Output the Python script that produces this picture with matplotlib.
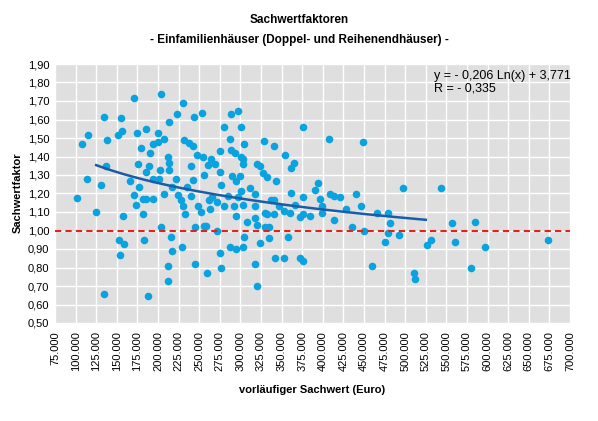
import numpy as np
import matplotlib
matplotlib.use("Agg")
import matplotlib.pyplot as plt
from matplotlib.ticker import FuncFormatter, MultipleLocator

plt.rcParams['font.family'] = ['Liberation Sans', 'DejaVu Sans']

# x in thousand euro, y = Sachwertfaktor
pts = [
(101.2,1.177),(108,1.468),(114.8,1.518),(113.3,1.28),(124.9,1.10),(130.7,1.246),(134.6,1.615),(134.6,0.657),
(136.5,1.35),(138.4,1.488),(151,1.516),(155.4,1.606),(156.8,1.54),(153,0.95),(158.8,0.927),(153.9,0.87),
(157.8,1.08),(166.5,1.27),(170.4,1.19),(172.8,1.136),(171.3,1.718),(174.2,1.527),(176.2,1.358),(176.6,1.237),
(179.1,1.446),(181.5,1.09),(182.9,0.95),(184.9,1.547),(182,1.168),(185.8,1.168),(193.6,1.168),(187.8,0.648),
(188.7,1.35),(189.7,1.417),(185.8,1.316),(194,1.466),(200.3,1.477),(200.3,1.529),(203.2,1.736),(204.2,1.019),
(202.3,1.327),(207.1,1.496),(207.1,1.20),(201.3,1.28),(194,1.28),(211.9,1.40),(212.9,1.367),(213.4,1.327),
(212.9,1.586),(215.8,0.966),(216.8,0.887),(211.9,0.808),(211.9,0.729),(217.3,1.233),(222.1,1.277),(223.5,1.63),
(224.5,1.19),(229.4,0.909),(228.4,1.165),(229.8,1.13),(231.3,1.49),(230.8,1.688),(233.2,1.09),(234.7,1.233),
(238,1.475),(240,1.187),(240,1.35),(241.9,1.457),(242.4,1.273),(243.9,1.615),(244.8,1.017),(245.3,0.82),
(246.8,1.408),(248.7,1.13),(251.6,1.10),(253,1.637),(254.5,1.395),(255.5,1.30),(256.4,1.026),(258.4,1.026),
(259.3,0.772),(260.8,1.355),(262.2,1.165),(264.2,1.385),(265.1,1.183),(263.2,1.115),(271.9,0.999),(274.8,1.316),
(275.8,0.877),(276.7,0.80),(276.7,1.246),(275.8,1.43),(280.1,1.558),
(269,1.36),(288.3,1.63),(297,1.648),(287.4,1.496),(288.3,1.435),(293.2,1.42),(300.9,1.558),(300.9,1.395),
(304.8,1.468),(302.8,1.36),(302.8,1.385),(290.3,1.295),(299,1.295),(295.1,1.27),(300.9,1.215),(297,1.183),
(302.8,1.138),(284.5,1.187),(280.6,1.132),(292.2,1.13),(294.1,1.08),(271.9,1.155),
(287.4,0.909),(295.1,0.898),(302.8,0.909),(303.8,0.966),(307.7,1.048),(311.5,1.228),(317.3,1.197),(317.3,1.13),
(318.3,1.067),(320.2,1.028),(317.3,0.82),(320.2,0.70),(324.1,0.93),(320.2,1.36),(324.1,1.35),(327,1.31),
(332.8,1.288),(328.9,1.485),(340.6,1.457),(343.5,1.27),(329.9,1.096),(329.9,1.02),(334.7,1.02),(334.7,0.958),
(336.7,1.165),(340.6,1.165),(331.8,1.09),(340.6,1.09),(346.4,1.13),(353.1,1.107),(359.9,1.096),(342.5,0.85),
(353.1,0.85),(354.1,1.406),(361.8,1.336),(364.7,1.366),(360.9,1.205),(366.7,1.138),(358,0.966),(372.5,0.85),
(376.3,0.837),(376.3,1.558),(375.4,1.18),(372.5,1.071),(376.3,1.09),(385,1.08),(390.8,1.219),(394.7,1.258),
(396.6,1.168),(398.6,1.13),(398.6,1.096),(407.3,1.496),(408.2,1.197),(413.1,1.187),(413.1,1.057),(420.8,1.18),
(427.6,1.118),(435.3,1.017),(440.2,1.197),(446.9,1.13),(448.9,1.478),(449.8,1.00),(459.5,0.808),(465.3,1.096),
(475.9,0.938),(478.8,1.096),(478.8,0.988),(481.7,1.038),
(492.4,0.977),(497.2,1.228),(510.7,0.769),(511.7,0.74),(526.2,0.92),(531,0.95),(543.6,1.228),(557.2,1.038),
(560.1,0.938),(579.4,0.80),(585.2,1.048),(596.8,0.909),(673,0.95),
]
x_vals = [p[0]*1000 for p in pts]
y_vals = [p[1] for p in pts]

coef_a = -0.206
coef_b = 3.771
trend_range = [125000, 525000]

fig = plt.figure(figsize=(5.98, 4.21), dpi=100)
ax = fig.add_axes([55/598, 1-323/421, (570-55)/598, (323-64)/421])
ax.set_facecolor('#dfdfdf')
ax.grid(True, color='white', linewidth=1.0)
ax.set_axisbelow(True)
for s in ax.spines.values():
    s.set_visible(False)

ax.scatter(x_vals, y_vals, s=30, color='#0aa3e0', zorder=3, linewidths=0)
xt = np.linspace(trend_range[0], trend_range[1], 200)
ax.plot(xt, coef_a*np.log(xt)+coef_b, color='#1a5ca8', lw=1.8, zorder=4)
ax.axhline(1.0, color='#e8201c', lw=1.5, ls=(0, (3, 2)), zorder=5)

ax.set_xlim(75000, 700000)
ax.set_ylim(0.5, 1.9)
ax.xaxis.set_major_locator(MultipleLocator(25000))
ax.yaxis.set_major_locator(MultipleLocator(0.1))
ax.xaxis.set_major_formatter(FuncFormatter(lambda v, p: f"{int(round(v)):,}".replace(",", ".")))
ax.yaxis.set_major_formatter(FuncFormatter(lambda v, p: f"{v:.2f}".replace(".", ",")))
ax.tick_params(axis='x', labelrotation=90, labelsize=8, length=0, pad=6)
ax.tick_params(axis='y', labelsize=8, length=0, pad=4)

ax.text(0.735, 0.975, "y = - 0,206 Ln(x) + 3,771\nR = - 0,335", transform=ax.transAxes,
        fontsize=9, va='top', ha='left', linespacing=1.0)

fig.text(0.5, 1-20/421, "Sachwertfaktoren", ha='center', va='center', fontsize=8.5, fontweight='bold')
fig.text(0.5, 1-40/421, "- Einfamilienhäuser (Doppel- und Reihenendhäuser) -", ha='center', va='center', fontsize=8.5, fontweight='bold')
fig.text(312/598, 1-390/421, "vorläufiger Sachwert (Euro)", ha='center', va='center', fontsize=8, fontweight='bold')
fig.text(18/598, 1-193/421, "Sachwertfaktor", ha='center', va='center', rotation=90, fontsize=8, fontweight='bold')

fig.savefig("out.png", dpi=100)
